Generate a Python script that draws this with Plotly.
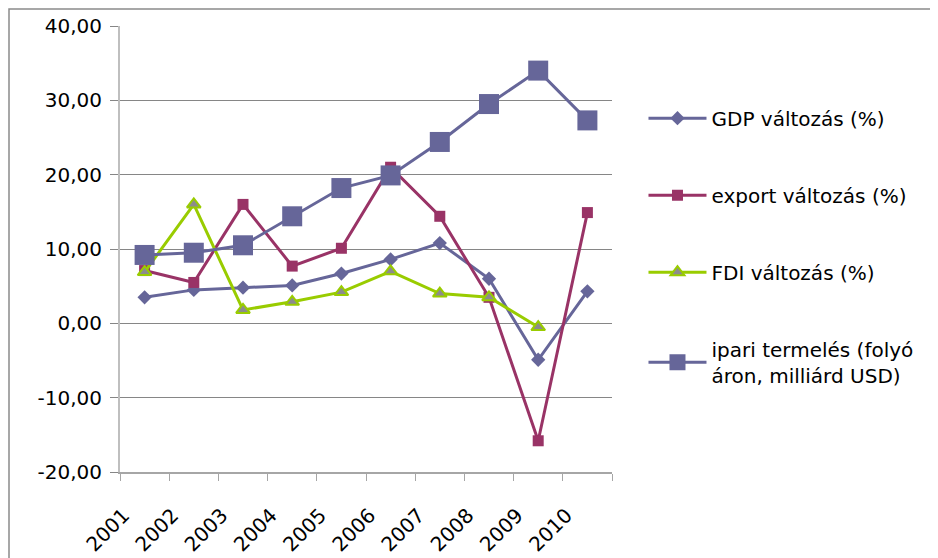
import plotly.graph_objects as go

years = ["2001", "2002", "2003", "2004", "2005", "2006", "2007", "2008", "2009", "2010"]
gdp = [3.5, 4.5, 4.8, 5.1, 6.7, 8.6, 10.8, 6.0, -4.9, 4.3]
export = [7.1, 5.5, 16.0, 7.7, 10.1, 21.0, 14.4, 3.5, -15.8, 14.9]
fdi = [6.9, 16.0, 1.8, 2.9, 4.2, 7.0, 4.0, 3.5, -0.5, None]
ipari = [9.2, 9.5, 10.5, 14.4, 18.2, 19.9, 24.4, 29.5, 34.0, 27.3]
yticks = [-20, -10, 0, 10, 20, 30, 40]
ytick_text = ["-20,00", "-10,00", "0,00", "10,00", "20,00", "30,00", "40,00"]

FONT = "DejaVu Sans"
c_gdp = "#666699"
c_exp = "#993366"
c_fdi = "#99CC00"

fig = go.Figure()
fig.add_trace(go.Scatter(x=years, y=gdp, name="GDP változás (%)", mode="lines+markers",
                         line=dict(color=c_gdp, width=3),
                         marker=dict(symbol="diamond", size=11, color=c_gdp),
                         legendgroup="a"))
fig.add_trace(go.Scatter(x=years, y=export, name="export változás (%)", mode="lines+markers",
                         line=dict(color=c_exp, width=3),
                         marker=dict(symbol="square", size=11, color=c_exp),
                         legendgroup="b"))
fig.add_trace(go.Scatter(x=years, y=fdi, name="FDI változás (%)", mode="lines+markers",
                         line=dict(color=c_fdi, width=3),
                         marker=dict(symbol="triangle-up", size=12, color="#8C8C8C",
                                     line=dict(color=c_fdi, width=2)),
                         legendgroup="c"))
fig.add_trace(go.Scatter(x=years, y=ipari, name="ipari termelés (folyó<br>áron, milliárd USD)",
                         mode="lines+markers",
                         line=dict(color=c_gdp, width=3),
                         marker=dict(symbol="square", size=20, color=c_gdp),
                         legendgroup="d"))

W, H = 930, 550
L, R, T, B = 112, 326, 18, 86
pw, ph = W - L - R, H - T - B

fig.update_layout(
    width=W, height=H,
    margin=dict(l=L, r=R, t=T, b=B),
    paper_bgcolor="white", plot_bgcolor="white",
    font=dict(family=FONT, size=20, color="black"),
    showlegend=True,
    legend=dict(x=1.064, y=0.837, xanchor="left", yanchor="top",
                font=dict(family=FONT, size=20, color="black"),
                tracegroupgap=48, itemwidth=58, bgcolor="rgba(0,0,0,0)"),
    xaxis=dict(type="category", tickson="boundaries", ticks="outside", ticklen=7,
               tickcolor="#A6A6A6", showline=True, linecolor="#A6A6A6", linewidth=1.5,
               showgrid=False, tickangle=-45, tickfont=dict(family=FONT, size=20),
               ticklabelshift=-21, ticklabelstandoff=22, automargin=False,
               range=[-0.5, 9.5]),
    yaxis=dict(range=[-20, 40], tickvals=yticks, ticktext=ytick_text,
               ticks="outside", ticklen=8, tickcolor="#868686",
               showline=True, linecolor="#BFBFBF", linewidth=2,
               showgrid=True, gridcolor="#868686", gridwidth=1,
               ticklabelstandoff=4, automargin=False,
               zeroline=False, tickfont=dict(family=FONT, size=20)),
    shapes=[dict(type="rect", xref="paper", yref="paper",
                 x0=-(L - 1) / pw, x1=1 + (R + 20) / pw,
                 y0=-(B + 20) / ph, y1=1 + (T - 1) / ph,
                 line=dict(color="#8A8A8A", width=1.5), fillcolor="rgba(0,0,0,0)", layer="below")],
)

fig.write_html("out.html")
